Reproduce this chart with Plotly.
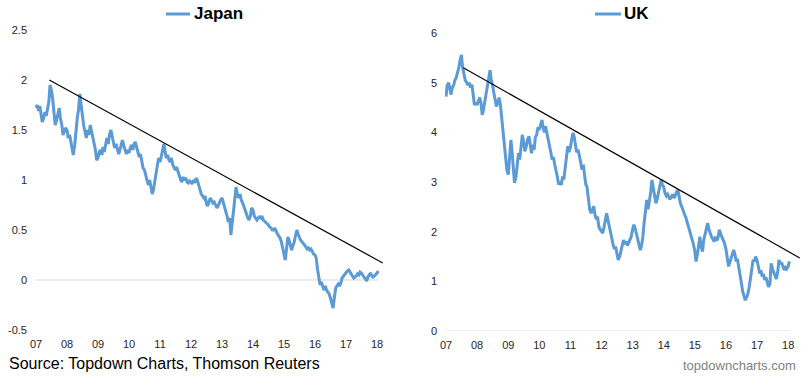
import plotly.graph_objects as go
import pandas as pd

W, H = 809, 379
FONT = "Liberation Sans, Arial, sans-serif"
BLUE = "#5B9BD5"

# semi-monthly observations starting 2007-01-01
japan_2007 = [1.72,1.75,1.69,1.74,1.66,1.58,1.62,1.68,1.64,1.70,1.78,1.95,1.90,1.82,1.70,1.55,1.60,1.66,1.72,1.62,1.55,1.45,1.50,1.52]
japan_2008 = [1.50,1.42,1.45,1.38,1.30,1.25,1.35,1.50,1.62,1.70,1.86,1.75,1.62,1.55,1.48,1.42,1.50,1.45,1.55,1.50,1.42,1.38,1.30,1.20]
japan_2009 = [1.22,1.28,1.30,1.25,1.33,1.28,1.38,1.42,1.36,1.45,1.50,1.44,1.38,1.32,1.36,1.30,1.26,1.30,1.35,1.40,1.34,1.30,1.26,1.30]
japan_2010 = [1.27,1.32,1.35,1.30,1.36,1.38,1.32,1.28,1.23,1.26,1.18,1.12,1.10,1.05,1.00,0.95,1.00,0.92,0.86,0.90,1.00,1.05,1.15,1.22]
japan_2011 = [1.18,1.25,1.30,1.36,1.28,1.22,1.25,1.20,1.18,1.22,1.15,1.12,1.10,1.13,1.08,1.03,1.00,0.98,1.03,1.00,1.02,0.98,0.97,0.99]
japan_2012 = [0.98,0.96,1.00,0.97,1.02,1.00,0.94,0.90,0.86,0.84,0.82,0.84,0.76,0.74,0.78,0.82,0.79,0.77,0.78,0.75,0.72,0.74,0.78,0.80]
japan_2013 = [0.82,0.78,0.74,0.70,0.64,0.58,0.62,0.45,0.58,0.72,0.88,0.93,0.85,0.82,0.86,0.80,0.77,0.73,0.70,0.67,0.62,0.60,0.64,0.72]
japan_2014 = [0.70,0.64,0.61,0.60,0.62,0.63,0.62,0.64,0.60,0.59,0.58,0.57,0.55,0.53,0.52,0.50,0.50,0.52,0.48,0.46,0.44,0.42,0.38,0.32]
japan_2015 = [0.28,0.20,0.32,0.43,0.40,0.36,0.30,0.34,0.38,0.44,0.50,0.46,0.42,0.40,0.38,0.37,0.35,0.33,0.31,0.32,0.30,0.31,0.28,0.26]
japan_2016 = [0.25,0.22,0.10,0.02,-0.05,-0.02,-0.08,-0.10,-0.06,-0.10,-0.12,-0.14,-0.18,-0.22,-0.28,-0.18,-0.08,-0.06,-0.04,-0.06,-0.03,0.02,0.04,0.06]
japan_2017 = [0.07,0.09,0.10,0.08,0.07,0.05,0.02,0.03,0.04,0.06,0.05,0.08,0.07,0.05,0.03,0.02,-0.01,0.03,0.06,0.07,0.04,0.03,0.04,0.05]
japan_2018 = [0.07,0.09]

uk_2007 = [4.72,4.95,5.00,4.85,4.76,4.90,4.95,5.05,5.10,5.20,5.30,5.45,5.56,5.30,5.15,5.05,5.00,4.95,5.00,4.90,4.96,4.75,4.55,4.60]
uk_2008 = [4.55,4.62,4.70,4.60,4.35,4.45,4.62,4.75,4.95,5.10,5.25,5.05,4.95,4.80,4.65,4.52,4.60,4.70,4.55,4.30,4.10,3.80,3.50,3.25]
uk_2009 = [3.15,3.50,3.85,3.60,3.31,2.98,3.10,3.40,3.58,3.45,3.75,3.95,3.80,3.62,3.72,3.85,3.92,3.70,3.58,3.75,3.65,3.90,3.95,4.10]
uk_2010 = [4.05,4.15,4.25,4.10,4.00,4.12,3.99,3.85,3.75,3.60,3.45,3.50,3.35,3.25,3.10,2.95,3.00,2.94,3.11,3.05,3.30,3.50,3.72,3.60]
uk_2011 = [3.70,3.85,3.99,3.90,3.72,3.60,3.65,3.55,3.40,3.25,3.35,3.15,2.95,2.90,2.60,2.45,2.37,2.45,2.51,2.35,2.25,2.30,2.10,2.05]
uk_2012 = [2.00,1.97,2.10,2.20,2.37,2.25,2.10,2.04,1.90,1.75,1.65,1.70,1.55,1.43,1.50,1.60,1.72,1.83,1.75,1.80,1.72,1.77,1.85,1.90]
uk_2013 = [2.05,2.14,2.05,1.94,1.85,1.75,1.63,1.72,1.90,2.17,2.40,2.64,2.45,2.60,2.80,3.04,2.85,2.70,2.57,2.65,2.80,2.90,3.04,2.95]
uk_2014 = [2.90,2.78,2.72,2.75,2.70,2.65,2.71,2.75,2.68,2.72,2.80,2.84,2.70,2.57,2.50,2.42,2.35,2.30,2.20,2.10,2.04,1.95,1.85,1.75]
uk_2015 = [1.60,1.40,1.55,1.80,1.90,1.70,1.60,1.83,1.95,2.05,2.17,2.05,1.95,1.90,1.85,1.80,1.90,1.82,1.88,2.04,1.95,1.90,1.85,1.77]
uk_2016 = [1.65,1.50,1.30,1.38,1.45,1.52,1.63,1.55,1.40,1.45,1.30,1.15,0.96,0.80,0.70,0.62,0.68,0.75,0.89,1.05,1.25,1.43,1.40,1.50]
uk_2017 = [1.42,1.30,1.16,1.22,1.10,1.15,1.03,1.08,1.00,0.89,0.95,1.36,1.25,1.18,1.09,1.05,1.20,1.43,1.35,1.38,1.30,1.23,1.28,1.25]
uk_2018 = [1.30,1.40]

japan = (japan_2007 + japan_2008 + japan_2009 + japan_2010 + japan_2011 + japan_2012 +
         japan_2013 + japan_2014 + japan_2015 + japan_2016 + japan_2017 + japan_2018)
uk = (uk_2007 + uk_2008 + uk_2009 + uk_2010 + uk_2011 + uk_2012 +
      uk_2013 + uk_2014 + uk_2015 + uk_2016 + uk_2017 + uk_2018)
dates = pd.date_range("2007-01-01", periods=len(japan), freq="SMS")

japan_trend_dates = ["2007-06-07", "2018-03-10"]
japan_trend_vals = [2.0, 0.17]
uk_trend_dates = ["2007-07-23", "2018-05-18"]
uk_trend_vals = [5.30, 1.47]

japan_yticks = [-0.5, 0, 0.5, 1, 1.5, 2, 2.5]
japan_yticktext = ["-0.5", "0", "0.5", "1", "1.5", "2", "2.5"]
uk_yticks = [0, 1, 2, 3, 4, 5, 6]
uk_yticktext = ["0", "1", "2", "3", "4", "5", "6"]

fig = go.Figure()
fig.add_trace(go.Scatter(x=dates, y=japan, mode="lines", line=dict(color=BLUE, width=3),
                         xaxis="x", yaxis="y", name="Japan"))
fig.add_trace(go.Scatter(x=japan_trend_dates, y=japan_trend_vals, mode="lines",
                         line=dict(color="black", width=1.2), xaxis="x", yaxis="y"))
fig.add_trace(go.Scatter(x=dates, y=uk, mode="lines", line=dict(color=BLUE, width=3),
                         xaxis="x2", yaxis="y2", name="UK"))
fig.add_trace(go.Scatter(x=uk_trend_dates, y=uk_trend_vals, mode="lines",
                         line=dict(color="black", width=1.2), xaxis="x2", yaxis="y2"))

# convert window pixel positions to paper fractions
def px_x(p):
    return p / W

def px_y(p):
    return 1 - p / H

tickfont = dict(family=FONT, size=11, color="#262626")
xcommon = dict(tickformat="%y", dtick="M12", tick0="2007-01-01", showgrid=False,
               zeroline=False, showline=False, ticks="", tickfont=tickfont,
               automargin=False, ticklabelstandoff=6, fixedrange=True)
ycommon = dict(showgrid=False, zeroline=False, showline=False, ticks="",
               tickfont=tickfont, automargin=False, ticklabelstandoff=7, fixedrange=True)

fig.update_layout(
    width=W, height=H,
    margin=dict(l=0, r=0, t=0, b=0),
    paper_bgcolor="white", plot_bgcolor="white",
    showlegend=False,
    hovermode=False,
    xaxis=dict(xcommon, domain=[px_x(35), px_x(383)], range=["2006-12-20", "2018-03-12"], anchor="y"),
    yaxis=dict(ycommon, domain=[px_y(330), px_y(30)], range=[-0.5, 2.5], anchor="x",
               tickvals=japan_yticks, ticktext=japan_yticktext),
    xaxis2=dict(xcommon, domain=[px_x(445), px_x(800)], range=["2006-12-20", "2018-05-20"], anchor="y2"),
    yaxis2=dict(ycommon, domain=[px_y(331), px_y(33)], range=[0, 6], anchor="x2",
                tickvals=uk_yticks, ticktext=uk_yticktext),
    shapes=[
        dict(type="line", xref="x", yref="y", x0=dates[0], x1=dates[-1], y0=0, y1=0,
             line=dict(color="#d9d9d9", width=1), layer="below"),
        dict(type="line", xref="x2", yref="y2", x0=dates[0], x1=dates[-1], y0=0, y1=0,
             line=dict(color="#d9d9d9", width=1), layer="below"),
        dict(type="line", xref="paper", yref="paper", x0=px_x(166), x1=px_x(190),
             y0=px_y(14), y1=px_y(14), line=dict(color=BLUE, width=3)),
        dict(type="line", xref="paper", yref="paper", x0=px_x(595), x1=px_x(621),
             y0=px_y(14), y1=px_y(14), line=dict(color=BLUE, width=3)),
    ],
    annotations=[
        dict(text="<b>Japan</b>", xref="paper", yref="paper", x=px_x(192), y=px_y(14),
             xanchor="left", yanchor="middle", showarrow=False,
             font=dict(family=FONT, size=17, color="black")),
        dict(text="<b>UK</b>", xref="paper", yref="paper", x=px_x(622), y=px_y(14),
             xanchor="left", yanchor="middle", showarrow=False,
             font=dict(family=FONT, size=17, color="black")),
        dict(text="Source: Topdown Charts, Thomson Reuters", xref="paper", yref="paper",
             x=px_x(7), y=px_y(363), xanchor="left", yanchor="middle", showarrow=False,
             font=dict(family=FONT, size=16, color="black")),
        dict(text="topdowncharts.com", xref="paper", yref="paper",
             x=px_x(798), y=px_y(365), xanchor="right", yanchor="middle", showarrow=False,
             font=dict(family=FONT, size=13, color="#7f7f7f")),
    ],
)

# remove the browser's default page margin so the figure fills the window exactly
fig.write_html("out.html",
               config={"displayModeBar": False, "staticPlot": True},
               post_script="document.body.style.margin='0';document.body.style.overflow='hidden';")
